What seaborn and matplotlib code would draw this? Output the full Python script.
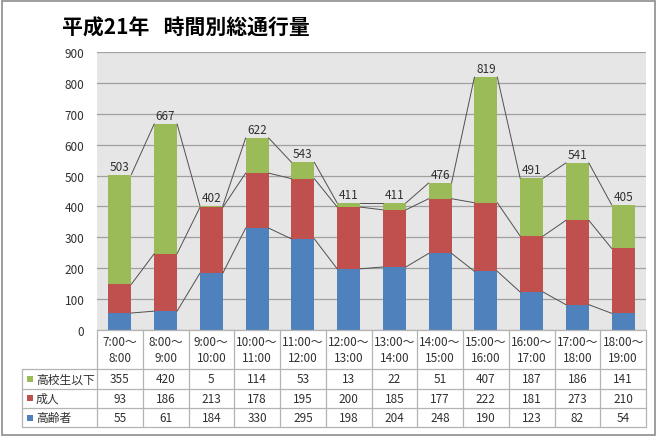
import numpy as np
import pandas as pd
import matplotlib
matplotlib.use("Agg")
import matplotlib.pyplot as plt
import seaborn as sns
from matplotlib.patches import Rectangle

# ---------------- data ----------------
title = "平成21年   時間別総通行量"
categories = ["7:00～\n8:00", "8:00～\n9:00", "9:00～\n10:00", "10:00～\n11:00",
              "11:00～\n12:00", "12:00～\n13:00", "13:00～\n14:00", "14:00～\n15:00",
              "15:00～\n16:00", "16:00～\n17:00", "17:00～\n18:00", "18:00～\n19:00"]
series_names = ["高校生以下", "成人", "高齢者"]
students = [355, 420, 5, 114, 53, 13, 22, 51, 407, 187, 186, 141]
adults = [93, 186, 213, 178, 195, 200, 185, 177, 222, 181, 273, 210]
elderly = [55, 61, 184, 330, 295, 198, 204, 248, 190, 123, 82, 54]
yticks = list(range(0, 1000, 100))

GREEN, RED, BLUE = "#9BBB59", "#C0504D", "#4F81BD"
series_colors = [GREEN, RED, BLUE]

# ---------------- setup ----------------
sns.set_theme(style="white")
plt.rcParams['font.family'] = ['Noto Sans CJK JP', 'DejaVu Sans']

W, H = 660, 439
fig = plt.figure(figsize=(W / 100, H / 100), dpi=100)
fig.patch.set_facecolor("white")

def fx(px):
    return px / W

def fy(py):
    return 1 - py / H

L, R, T, B = 97, 646, 53, 331
TB = 428  # table bottom
ax = fig.add_axes([fx(L), fy(B), (R - L) / W, (B - T) / H])

df = pd.DataFrame({"cat": categories, "elderly": elderly, "adults": adults, "students": students})
df["c1"] = df["elderly"]
df["c2"] = df["elderly"] + df["adults"]
df["c3"] = df["c2"] + df["students"]

bw = 0.5
for col, color in [("c3", GREEN), ("c2", RED), ("c1", BLUE)]:
    sns.barplot(data=df, x="cat", y=col, order=categories, color=color,
                saturation=1, width=bw, ax=ax, zorder=3, linewidth=0)

# series lines
n = len(categories)
for col in ["c1", "c2", "c3"]:
    v = df[col].values
    for i in range(n - 1):
        ax.plot([i + bw / 2, i + 1 - bw / 2], [v[i], v[i + 1]],
                color="#505050", lw=0.7, zorder=4)

# totals
for i, t in enumerate(df["c3"].values):
    ax.annotate(str(t), (i, t), xytext=(0, 1.5), textcoords="offset points",
                ha="center", va="bottom", fontsize=8.5, color="#303030")

ax.set_facecolor("#E6E6E6")
ax.set_xlim(-0.5, n - 0.5)
ax.set_ylim(0, 900)
ax.set_yticks(yticks)
ax.set_yticklabels([str(v) for v in yticks], fontsize=8.5, color="#303030")
ax.yaxis.grid(True, color="#A0A0A0", lw=0.9, zorder=0)
ax.set_axisbelow(True)
ax.tick_params(axis="y", length=0, pad=9)
ax.tick_params(axis="x", length=0, labelbottom=False)
ax.set_xlabel("")
ax.set_ylabel("")
for s in ax.spines.values():
    s.set_visible(False)

# ---------------- data table ----------------
tax = fig.add_axes([fx(L), fy(TB), (R - L) / W, (TB - B) / H])
tax.set_xlim(-0.5, n - 0.5)
tax.set_ylim(TB - B, 0)
tax.axis("off")
ppu = (R - L) / n
hdr_left = -0.5 - (L - 22) / ppu
row_y = [0, 39, 58.5, 78, 97]
lc = "#B4B4B4"
tax.plot([-0.5, n - 0.5], [0, 0], color=lc, lw=0.9, clip_on=False)
for y in row_y[1:]:
    tax.plot([hdr_left, n - 0.5], [y, y], color=lc, lw=0.9, clip_on=False)
for i in range(n + 1):
    tax.plot([i - 0.5, i - 0.5], [0, 97], color=lc, lw=0.9, clip_on=False)
tax.plot([hdr_left, hdr_left], [39, 97], color=lc, lw=0.9, clip_on=False)

for i, c in enumerate(categories):
    tax.text(i, 19.5, c, ha="center", va="center", fontsize=8.5,
             color="#303030", linespacing=1.35)

rows = [students, adults, elderly]
for r, (name, vals, color) in enumerate(zip(series_names, rows, series_colors)):
    yc = (row_y[r + 1] + row_y[r + 2]) / 2
    tax.scatter([hdr_left + 8 / ppu], [yc], marker="s", s=22, color=color,
                clip_on=False, linewidths=0)
    tax.text(hdr_left + 14 / ppu, yc, name, ha="left", va="center",
             fontsize=8.5, color="#303030")
    for i, v in enumerate(vals):
        tax.text(i, yc, str(v), ha="center", va="center", fontsize=8.5,
                 color="#303030")

# title
fig.text(fx(62), fy(28), title, ha="left", va="center", fontsize=15,
         fontweight="bold", color="black")

# figure border
fig.patches.append(Rectangle((fx(2), fy(436)), (655 - 2) / W, (436 - 2) / H,
                             transform=fig.transFigure, fill=False,
                             edgecolor="#8C8C8C", lw=1.2))

fig.savefig("out.png", dpi=100)
